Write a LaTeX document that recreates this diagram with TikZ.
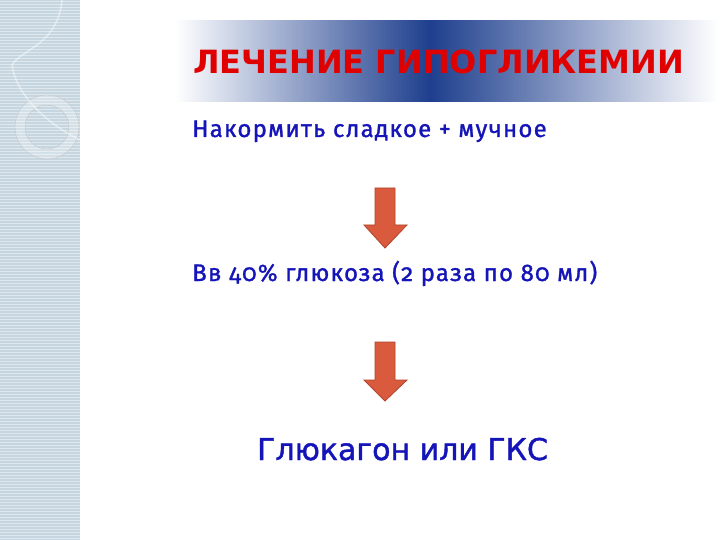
\documentclass[tikz,border=0pt]{standalone}
\usepackage{fontspec}
\setmainfont{DejaVu Sans}
\newfontfamily\bodyfont[Numbers=OldStyle,FakeBold=1.2,LetterSpace=5]{Fira Sans}
\newfontfamily\lastfont[FakeBold=1.4]{DejaVu Sans}
\definecolor{stripblue}{HTML}{C6D6E0}
\definecolor{barblue}{HTML}{1E3F8E}
\definecolor{titlered}{HTML}{E00000}
\definecolor{textblue}{HTML}{1414B8}
\definecolor{arrowred}{HTML}{D95A3C}
\definecolor{arrowedge}{HTML}{B0452C}
\tikzset{
	bodytext/.style={anchor=base west,inner sep=0pt,text=textblue,font=\bodyfont\fontsize{24}{28}\selectfont},
	downarrow/.style={fill=arrowred,draw=arrowedge,line width=0.8pt,line join=miter}
}

\begin{document}
\begin{tikzpicture}[x=1pt,y=-1pt]
	\useasboundingbox (0,0) rectangle (720,540);
	\fill[white] (0,0) rectangle (720,540);
	% left strip
	\fill[stripblue] (0,0) rectangle (80,540);
	\foreach \y in {1.5,4.5,...,540} \draw[white,opacity=0.45,line width=0.6pt] (0,\y) -- (80,\y);
	\begin{scope}
	\clip (0,0) rectangle (80,540);
	\fill[white,opacity=0.25,even odd rule] (47,127) circle (32) (47,127) circle (22);
	\draw[gray!45,line width=0.4pt] (47,127) circle (32) (47,127) circle (22);
	\draw[white,opacity=0.45,line width=1.5pt] (62,0) .. controls (58,45) and (20,50) .. (12,65);
	\draw[white,opacity=0.45,line width=1.5pt] (12,65) .. controls (15,90) and (40,120) .. (80,140);
	\end{scope}
	\draw[white,line width=1pt] (80,0) -- (80,540);
	% title bar
	\shade[left color=white,right color=barblue] (175,21) rectangle (430,102);
	\shade[left color=barblue,right color=white] (430,21) rectangle (718,102);
	\node[anchor=base west,inner sep=0pt,text=titlered,font=\bfseries\fontsize{32}{36}\selectfont] (title) at (193,74) {ЛЕЧЕНИЕ ГИПОГЛИКЕМИИ};
	% steps
	\node[bodytext] (feed) at (192,137) {Накормить сладкое + мучное};
	\node[bodytext] (glucose) at (192,281) {Вв 40\% глюкоза (2 раза по 80 мл)};
	\node[anchor=base west,inner sep=0pt,text=textblue,font=\lastfont\fontsize{30}{34}\selectfont] (glucagon) at (257,460) {Глюкагон или ГКС};
	% arrows
	\filldraw[downarrow] (375,188) -- (395,188) -- (395,225) -- (407,225) -- (385,248) -- (364,225) -- (375,225) -- cycle;
	\filldraw[downarrow] (375,342) -- (395,342) -- (395,380) -- (407,380) -- (385,401) -- (364,380) -- (375,380) -- cycle;
\end{tikzpicture}
\end{document}
